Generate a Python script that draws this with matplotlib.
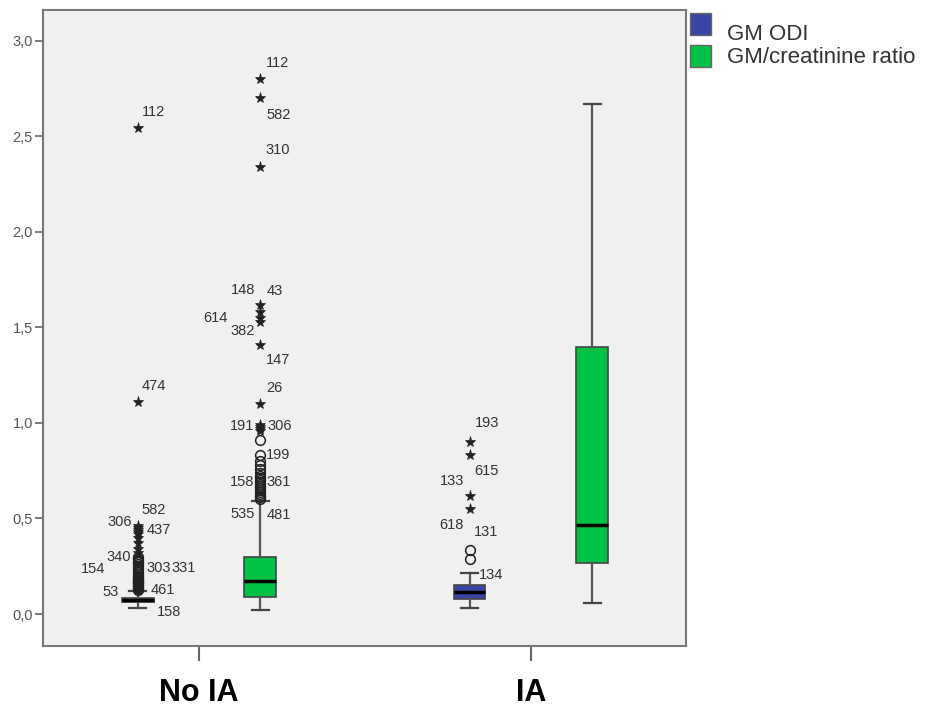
import matplotlib
matplotlib.use("Agg")
import matplotlib.pyplot as plt
from matplotlib.patches import Rectangle
from matplotlib.ticker import FuncFormatter

plt.rcParams['font.family'] = ['Liberation Sans', 'DejaVu Sans']

groups = ['No IA', 'IA']
series = ['GM ODI', 'GM/creatinine ratio']
colors = ['#3b45a6', '#00c244']

# box stats per series, per group: q1, median, q3, whisker low, whisker high
odi_q1 = [0.063, 0.079]
odi_med = [0.072, 0.115]
odi_q3 = [0.084, 0.152]
odi_lo = [0.030, 0.030]
odi_hi = [0.120, 0.215]

ratio_q1 = [0.089, 0.267]
ratio_med = [0.173, 0.466]
ratio_q3 = [0.300, 1.400]
ratio_lo = [0.020, 0.058]
ratio_hi = [0.590, 2.670]

# outliers (circles) and extremes (stars)
odi_circ = [[0.125, 0.13, 0.135, 0.14, 0.145, 0.15, 0.155, 0.16, 0.165, 0.17,
             0.175, 0.18, 0.185, 0.19, 0.195, 0.20, 0.21, 0.22, 0.23, 0.24,
             0.25, 0.26, 0.27, 0.28, 0.29, 0.30],
            [0.29, 0.335]]
odi_star = [[0.32, 0.34, 0.37, 0.40, 0.42, 0.43, 0.44, 0.45, 0.46, 1.11, 2.545],
            [0.55, 0.62, 0.83, 0.90]]
ratio_circ = [[0.60, 0.61, 0.62, 0.63, 0.64, 0.65, 0.66, 0.67, 0.68, 0.69,
               0.70, 0.71, 0.72, 0.74, 0.76, 0.78, 0.80, 0.83, 0.91],
              []]
ratio_star = [[0.96, 0.97, 0.98, 0.99, 1.10, 1.41, 1.53, 1.55, 1.58, 1.62,
               2.34, 2.70, 2.80],
              []]

# case labels: (text, y value, x offset in pixels)
odi_labels = [
    [('112', 2.628, 16), ('474', 1.194, 16), ('582', 0.545, 16),
     ('306', 0.482, -18), ('437', 0.44, 21), ('340', 0.298, -19),
     ('154', 0.236, -45), ('303', 0.241, 21), ('331', 0.241, 46),
     ('53', 0.115, -27), ('461', 0.126, 25), ('158', 0.01, 31)],
    [('193', 1.00, 17), ('615', 0.749, 17), ('133', 0.696, -18),
     ('618', 0.466, -18), ('131', 0.429, 16), ('134', 0.204, 21)],
]
ratio_labels = [
    [('112', 2.885, 17), ('582', 2.613, 18), ('310', 2.429, 17),
     ('148', 1.696, -17), ('43', 1.691, 14), ('614', 1.55, -45),
     ('382', 1.482, -18), ('147', 1.33, 18), ('26', 1.183, 14),
     ('191', 0.984, -18), ('306', 0.984, 19), ('199', 0.832, 18),
     ('158', 0.691, -18), ('361', 0.691, 18), ('535', 0.524, -18),
     ('481', 0.518, 18)],
    [],
]

W, H = 926, 706
fig = plt.figure(figsize=(W/100, H/100), dpi=100)
ax = fig.add_axes([43/W, 1-646/H, 643/W, 636/H])
ax.set_facecolor('#f0f0f0')

offset = 0.185
width = 0.096
all_series = [
    (odi_q1, odi_med, odi_q3, odi_lo, odi_hi, odi_circ, odi_star, odi_labels),
    (ratio_q1, ratio_med, ratio_q3, ratio_lo, ratio_hi, ratio_circ, ratio_star, ratio_labels),
]
for s, (q1, med, q3, lo, hi, circ, star, labs) in enumerate(all_series):
    sign = -1 if s == 0 else 1
    pos = [g + sign*offset for g in range(len(groups))]
    stats = []
    for g in range(len(groups)):
        stats.append({'q1': q1[g], 'med': med[g], 'q3': q3[g],
                      'whislo': lo[g], 'whishi': hi[g], 'fliers': []})
    ax.bxp(stats, positions=pos, widths=width, patch_artist=True,
           showfliers=False, capwidths=width*0.55,
           boxprops=dict(facecolor=colors[s], edgecolor='#444444', linewidth=1.2),
           medianprops=dict(color='black', linewidth=2.5),
           whiskerprops=dict(color='#555555', linewidth=1.6),
           capprops=dict(color='#444444', linewidth=1.6))
    for g in range(len(groups)):
        if circ[g]:
            ax.plot([pos[g]]*len(circ[g]), circ[g], 'o', ms=7, mfc='none',
                    mec='#222222', mew=1.1, zorder=3)
        if star[g]:
            ax.plot([pos[g]]*len(star[g]), star[g], '*', ms=8, color='#222222',
                    mew=0.5, zorder=3)
        for txt, yv, dx in labs[g]:
            ax.annotate(txt, xy=(pos[g], yv), xytext=(dx, 0),
                        textcoords='offset pixels', ha='center', va='center',
                        fontsize=10.5, color='#333333')

ax.set_xlim(-0.47, 1.467)
ax.set_ylim(-0.1675, 3.162)
ax.set_xticks(range(len(groups)))
ax.set_xticklabels(groups, fontsize=22, fontweight='bold', color='black')
ax.set_yticks([0, 0.5, 1.0, 1.5, 2.0, 2.5, 3.0])
ax.yaxis.set_major_formatter(FuncFormatter(lambda v, p: f'{v:.1f}'.replace('.', ',')))
ax.tick_params(axis='y', direction='out', length=5.8, width=1.2, color='#666666',
               labelsize=10.5, labelcolor='#555555', pad=1.5)
ax.tick_params(axis='x', direction='out', length=10.8, width=1.5, color='#666666',
               pad=12)
for sp in ax.spines.values():
    sp.set_color('#777777')
    sp.set_linewidth(1.5)

# legend outside the plot, drawn in figure pixels
for i, (name, c) in enumerate(zip(series, colors)):
    top = 13 + 32*i
    fig.patches.append(Rectangle((690/W, 1-(top+22)/H), 21/W, 22/H,
                                 transform=fig.transFigure, facecolor=c,
                                 edgecolor='#666666', linewidth=1))
    fig.text(727/W, 1-(40 + 23*i)/H, name, fontsize=16, color='#333333',
             ha='left', va='baseline')

fig.savefig('out.png', dpi=100)
